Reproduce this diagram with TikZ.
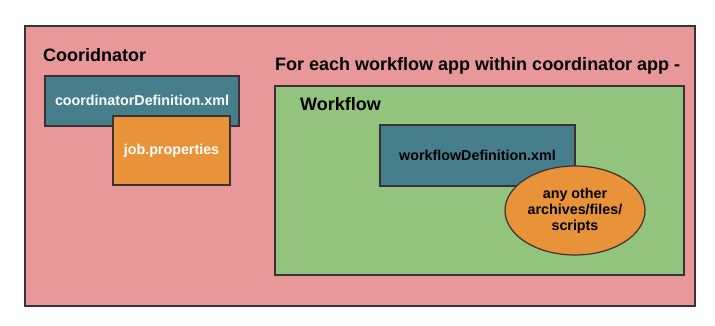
\documentclass[tikz,border=0pt]{standalone}
\usepackage{fontspec}
\setmainfont{Liberation Sans}
\usepackage{xcolor}
\usetikzlibrary{shapes,positioning,backgrounds}

\definecolor{appPink}{HTML}{E89898}
\definecolor{defTeal}{HTML}{467E8B}
\definecolor{propOrange}{HTML}{E8923A}
\definecolor{flowGreen}{HTML}{93C47D}
\definecolor{edgeDark}{HTML}{3A3232}

\begin{document}
\begin{tikzpicture}[x=1pt, y=-1pt,
    container/.style={rectangle, draw=edgeDark, line width=1.2pt, inner sep=0pt},
    deffile/.style={rectangle, draw=edgeDark, fill=defTeal, line width=1.2pt, inner sep=0pt, text=white, font=\bfseries\fontsize{14.3}{16}\selectfont},
    extra/.style={draw=edgeDark, fill=propOrange, line width=1.2pt, inner sep=0pt, font=\bfseries\fontsize{14.3}{16}\selectfont, align=center},
    heading/.style={anchor=west, inner sep=0pt, font=\bfseries\fontsize{18}{20}\selectfont}
]
\useasboundingbox (0,0) rectangle (715,326);

% Coordinator app
\node[container, fill=appPink, minimum width=670pt, minimum height=280pt] (coordapp) at (360,166) {};
\node[heading] (coordtitle) at (43,55) {Cooridnator};
\node[deffile, minimum width=194pt, minimum height=50pt] (coorddef) at (142,101) {\raisebox{1pt}{coordinatorDefinition.xml}};
\node[extra, text=white, minimum width=117pt, minimum height=69pt] (jobprops) at (171.5,150.5) {\raisebox{-2pt}{job.properties}};

% Workflow app
\node[heading] (flowtitle) at (275,66) {For each workflow app within coordinator app -};
\node[container, fill=flowGreen, minimum width=409pt, minimum height=189pt] (flowapp) at (479.5,180.5) {};
\node[heading] (flowlabel) at (300,104) {Workflow};
\node[deffile, text=black, minimum width=195pt, minimum height=61pt] (flowdef) at (477.5,155.5) {\raisebox{-2pt}{workflowDefinition.xml}};
\node[extra, ellipse, minimum width=140pt, minimum height=89pt] (others) at (575,210.5) {any other\\archives/files/\\scripts};

\end{tikzpicture}
\end{document}
